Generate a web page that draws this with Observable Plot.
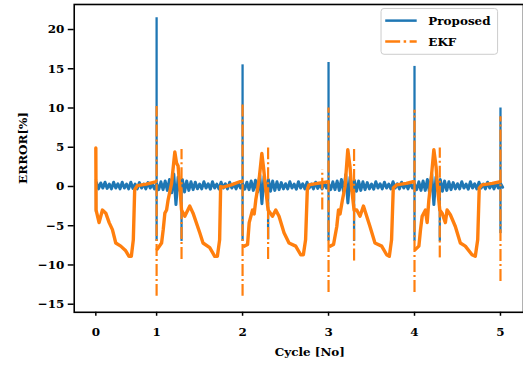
<!DOCTYPE html>
<html><head><meta charset="utf-8">
<script src="https://cdn.jsdelivr.net/npm/d3@7"></script>
<script src="https://cdn.jsdelivr.net/npm/@observablehq/plot@0.6"></script>
<style>
html,body{margin:0;padding:0;background:#fff;overflow:hidden}
</style></head><body><div id="chart"></div>
<script>
// ---- axes / labels ----
const cycleTickPositions = [0.293, 1, 2, 3, 4, 5];
const cycleTickLabels = ["0", "1", "2", "3", "4", "5"];
const errorTicks = [-15, -10, -5, 0, 5, 10, 15, 20];
const xLabel = "Cycle [No]";
const yLabel = "ERROR[%]";
const seriesNames = ["Proposed", "EKF"];
const seriesColors = ["#1f77b4", "#ff7f0e"];

// ---- Proposed (uniformly sampled band, step in cycle units) ----
const proposedStep = 0.025;
const proposedStarts = [0.30, 1.0, 2.0, 3.0, 4.0, 5.0];
const proposedC0 = [0.5,-0.3,0.45,-0.2,0.55,-0.25,0.3,-0.3,0.55,-0.2,0.35,-0.3,0.55,-0.2,0.3,-0.3,0.55,-0.25,0.3,-0.3,0.5,-0.2,0.3,-0.3,0.5,-0.2,0.35,-0.3];
const proposedC1 = [0.3,-0.4,0.6,-0.4,0.7,-0.5,0.9,-0.8,1.6,-2.3,1.2,-0.6,0.9,-0.7,0.7,-0.5,0.6,-0.4,0.55,-0.3,0.3,-0.3,0.6,-0.2,0.35,-0.35,0.6,-0.2,0.3,-0.3,0.55,-0.2,0.35,-0.3,0.55,-0.2,0.3,-0.3,0.5,-0.2];
const proposedC2 = [0.3,-0.35,0.55,-0.4,0.7,-0.5,0.8,-0.7,1.5,-2.2,1.3,-0.7,0.9,-0.6,0.7,-0.5,0.6,-0.4,0.5,-0.3,0.35,-0.3,0.6,-0.2,0.3,-0.35,0.6,-0.2,0.35,-0.3,0.55,-0.2,0.3,-0.3,0.55,-0.25,0.3,-0.3,0.5,-0.2];
const proposedC3 = [0.35,-0.4,0.6,-0.4,0.7,-0.5,0.9,-0.7,1.5,-2.1,1.2,-0.6,0.8,-0.6,0.7,-0.5,0.6,-0.4,0.5,-0.3,0.3,-0.35,0.6,-0.2,0.35,-0.3,0.55,-0.2,0.3,-0.3,0.6,-0.2,0.35,-0.3,0.55,-0.2,0.3,-0.3,0.5,-0.2];
const proposedC4 = [0.3,-0.4,0.6,-0.5,0.7,-0.5,0.9,-0.8,1.6,-2.3,1.2,-0.6,0.9,-0.6,0.7,-0.5,0.6,-0.4,0.5,-0.3,0.35,-0.3,0.6,-0.2,0.3,-0.35,0.6,-0.2,0.35,-0.3,0.55,-0.2,0.3,-0.3,0.55,-0.2,0.35,-0.3,0.5,-0.2];
const proposedC5 = [0.4,-0.1];
const proposedSpikes = [
  {t:0.295, hi:0.9, lo:-3.3},
  {t:1.0, hi:21.5, lo:-7.0},
  {t:1.29, hi:0.8, lo:-7.0},
  {t:2.0, hi:15.5, lo:-7.0},
  {t:2.297, hi:0.8, lo:-6.8},
  {t:3.0, hi:15.8, lo:-7.0},
  {t:3.297, hi:0.8, lo:-7.0},
  {t:4.0, hi:15.3, lo:-7.0},
  {t:4.294, hi:0.8, lo:-7.0},
  {t:5.0, hi:10.0, lo:-6.0}
];

// ---- EKF (body per cycle + dash-dot spikes) ----
const ekfC0 = [[0.293,4.9],[0.296,-3.0],[0.331,-4.6],[0.370,-3.0],[0.409,-3.4],[0.448,-4.6],[0.486,-5.5],[0.525,-7.2],[0.583,-7.6],[0.641,-8.2],[0.679,-8.9],[0.706,-8.9],[0.729,-6.8],[0.745,-0.4],[0.775,0.1],[0.88,0.3],[0.988,0.6]];
const ekfC1 = [[1.007,-8.0],[1.058,-7.2],[1.077,-5.5],[1.096,-3.4],[1.116,-3.0],[1.134,-1.7],[1.174,0.4],[1.212,4.4],[1.232,3.0],[1.250,2.6],[1.270,0],[1.290,-3.0],[1.328,-3.8],[1.386,-2.5],[1.424,-3.4],[1.502,-5.9],[1.540,-7.2],[1.618,-7.8],[1.676,-8.9],[1.707,-8.9],[1.733,-6.8],[1.745,0],[1.765,-0.1],[1.869,0.2],[1.965,0.6],[1.992,0.6]];
const ekfC2 = [[2.019,-7.6],[2.058,-7.4],[2.077,-4.6],[2.116,-3.0],[2.135,-3.5],[2.154,-1.7],[2.192,0.85],[2.224,4.2],[2.243,2.5],[2.270,-0.4],[2.297,-3.0],[2.348,-3.8],[2.386,-3.0],[2.424,-3.8],[2.482,-5.9],[2.540,-7.2],[2.618,-7.6],[2.676,-8.7],[2.707,-8.7],[2.733,-6.8],[2.753,-0.4],[2.772,0.2],[2.869,0.4],[2.927,0.5],[2.997,0.6]];
const ekfC3 = [[3.019,-7.6],[3.058,-7.4],[3.096,-5.1],[3.116,-3.0],[3.134,-3.5],[3.162,-1.7],[3.192,0],[3.224,4.7],[3.250,2.5],[3.270,-0.4],[3.297,-3.0],[3.328,-3.0],[3.366,-3.8],[3.406,-2.5],[3.444,-3.8],[3.482,-5.1],[3.540,-7.2],[3.618,-7.6],[3.676,-8.7],[3.707,-8.9],[3.733,-6.8],[3.753,-0.2],[3.791,0.2],[3.904,0.4],[3.985,0.6]];
const ekfC4 = [[4.012,-8.0],[4.051,-7.6],[4.070,-5.5],[4.089,-3.8],[4.127,-3.0],[4.147,-4.6],[4.167,-1.7],[4.193,0.85],[4.225,4.7],[4.251,2.5],[4.270,-0.4],[4.294,-3.0],[4.321,-3.4],[4.359,-4.6],[4.379,-3.0],[4.417,-3.6],[4.475,-5.1],[4.533,-7.2],[4.591,-7.6],[4.669,-8.7],[4.707,-8.9],[4.735,-6.8],[4.753,-0.2],[4.785,0.2],[4.904,0.4],[4.997,0.6]];
const ekfSpikes = [
  {t:1.0, hi:10.2, lo:-14.0},
  {t:1.29, hi:4.7, lo:-9.3},
  {t:2.0, hi:10.6, lo:-14.0},
  {t:2.297, hi:4.9, lo:-9.3},
  {t:2.927, hi:2.1, lo:-3.0},
  {t:3.0, hi:10.0, lo:-13.5},
  {t:3.297, hi:4.9, lo:-9.5},
  {t:4.0, hi:9.7, lo:-13.5},
  {t:4.294, hi:4.9, lo:-9.1},
  {t:5.0, hi:8.9, lo:-12.1}
];

// ---- build tables ----
const proposedCycles = [proposedC0, proposedC1, proposedC2, proposedC3, proposedC4, proposedC5];
const proposed = proposedCycles.flatMap((vals, k) =>
  vals.map((y, i) => ({t: proposedStarts[k] + i * proposedStep, y})));
const ekf = [ekfC0, ekfC1, ekfC2, ekfC3, ekfC4].flatMap((arr, k) =>
  arr.map(([t, y]) => ({t, y, seg: k})));

const fmtY = d => d < 0 ? "\u2212" + (-d) : String(d);
const fmtX = d => cycleTickLabels[cycleTickPositions.indexOf(d)];
const font = "DejaVu Serif";

const plot = Plot.plot({
  width: 525, height: 366,
  marginLeft: 74, marginRight: 0, marginTop: 4, marginBottom: 53,
  style: {fontFamily: font, fontSize: "12px", fontWeight: "bold", color: "black", background: "white"},
  x: {domain: [0.0417, 5.2677]},
  y: {domain: [-16.03, 23.19]},
  marks: [
    Plot.line(proposed, {x: "t", y: "y", stroke: seriesColors[0], strokeWidth: 3}),
    Plot.ruleX(proposedSpikes, {x: "t", y1: "lo", y2: "hi", stroke: seriesColors[0], strokeWidth: 2.3}),
    Plot.line(ekf, {x: "t", y: "y", z: "seg", stroke: seriesColors[1], strokeWidth: 3.4}),
    Plot.ruleX(ekfSpikes, {x: "t", y1: "lo", y2: "hi", stroke: seriesColors[1], strokeWidth: 2.2, strokeDasharray: "12,3,2,3"}),
    Plot.frame({stroke: "black", strokeWidth: 1.6}),
    Plot.axisY({ticks: errorTicks, tickFormat: fmtY, tickSize: 6, tickPadding: 4, strokeWidth: 1.5, label: null, fontSize: 12}),
    Plot.axisX({ticks: cycleTickPositions, tickFormat: fmtX, tickSize: 4, tickPadding: 11, strokeWidth: 1.5, label: null, fontSize: 12}),
    Plot.text([yLabel], {text: d => d, frameAnchor: "left", rotate: -90, dx: -51.5, dy: -10.5, textAnchor: "middle", lineAnchor: "middle", fontSize: 12, fontWeight: "bold"}),
    Plot.text([xLabel], {text: d => d, frameAnchor: "bottom", dx: 11, dy: 40, textAnchor: "middle", lineAnchor: "middle", fontSize: 12, fontWeight: "bold"})
  ]
});

// ---- legend ----
const svg = d3.select(plot);
const lg = svg.append("g").attr("text-anchor", "start");
lg.append("rect").attr("x", 382.5).attr("y", 8.5).attr("width", 117).attr("height", 46).attr("rx", 3)
  .attr("fill", "white").attr("fill-opacity", 0.8).attr("stroke", "#cccccc").attr("stroke-width", 1);
const rowY = [20.7, 41.7];
seriesNames.forEach((name, i) => {
  lg.append("line").attr("x1", 386.7).attr("x2", 418.3).attr("y1", rowY[i]).attr("y2", rowY[i])
    .attr("stroke", seriesColors[i]).attr("stroke-width", 2.5)
    .attr("stroke-dasharray", i === 1 ? "15,3.5,2.5,3.5" : null);
  lg.append("text").attr("x", 430).attr("y", rowY[i]).attr("dy", "0.35em")
    .attr("text-anchor", "start")
    .attr("font-family", font).attr("font-weight", "bold").attr("font-size", 12).attr("fill", "black")
    .text(name);
});

document.getElementById("chart").appendChild(plot);
</script></body></html>
